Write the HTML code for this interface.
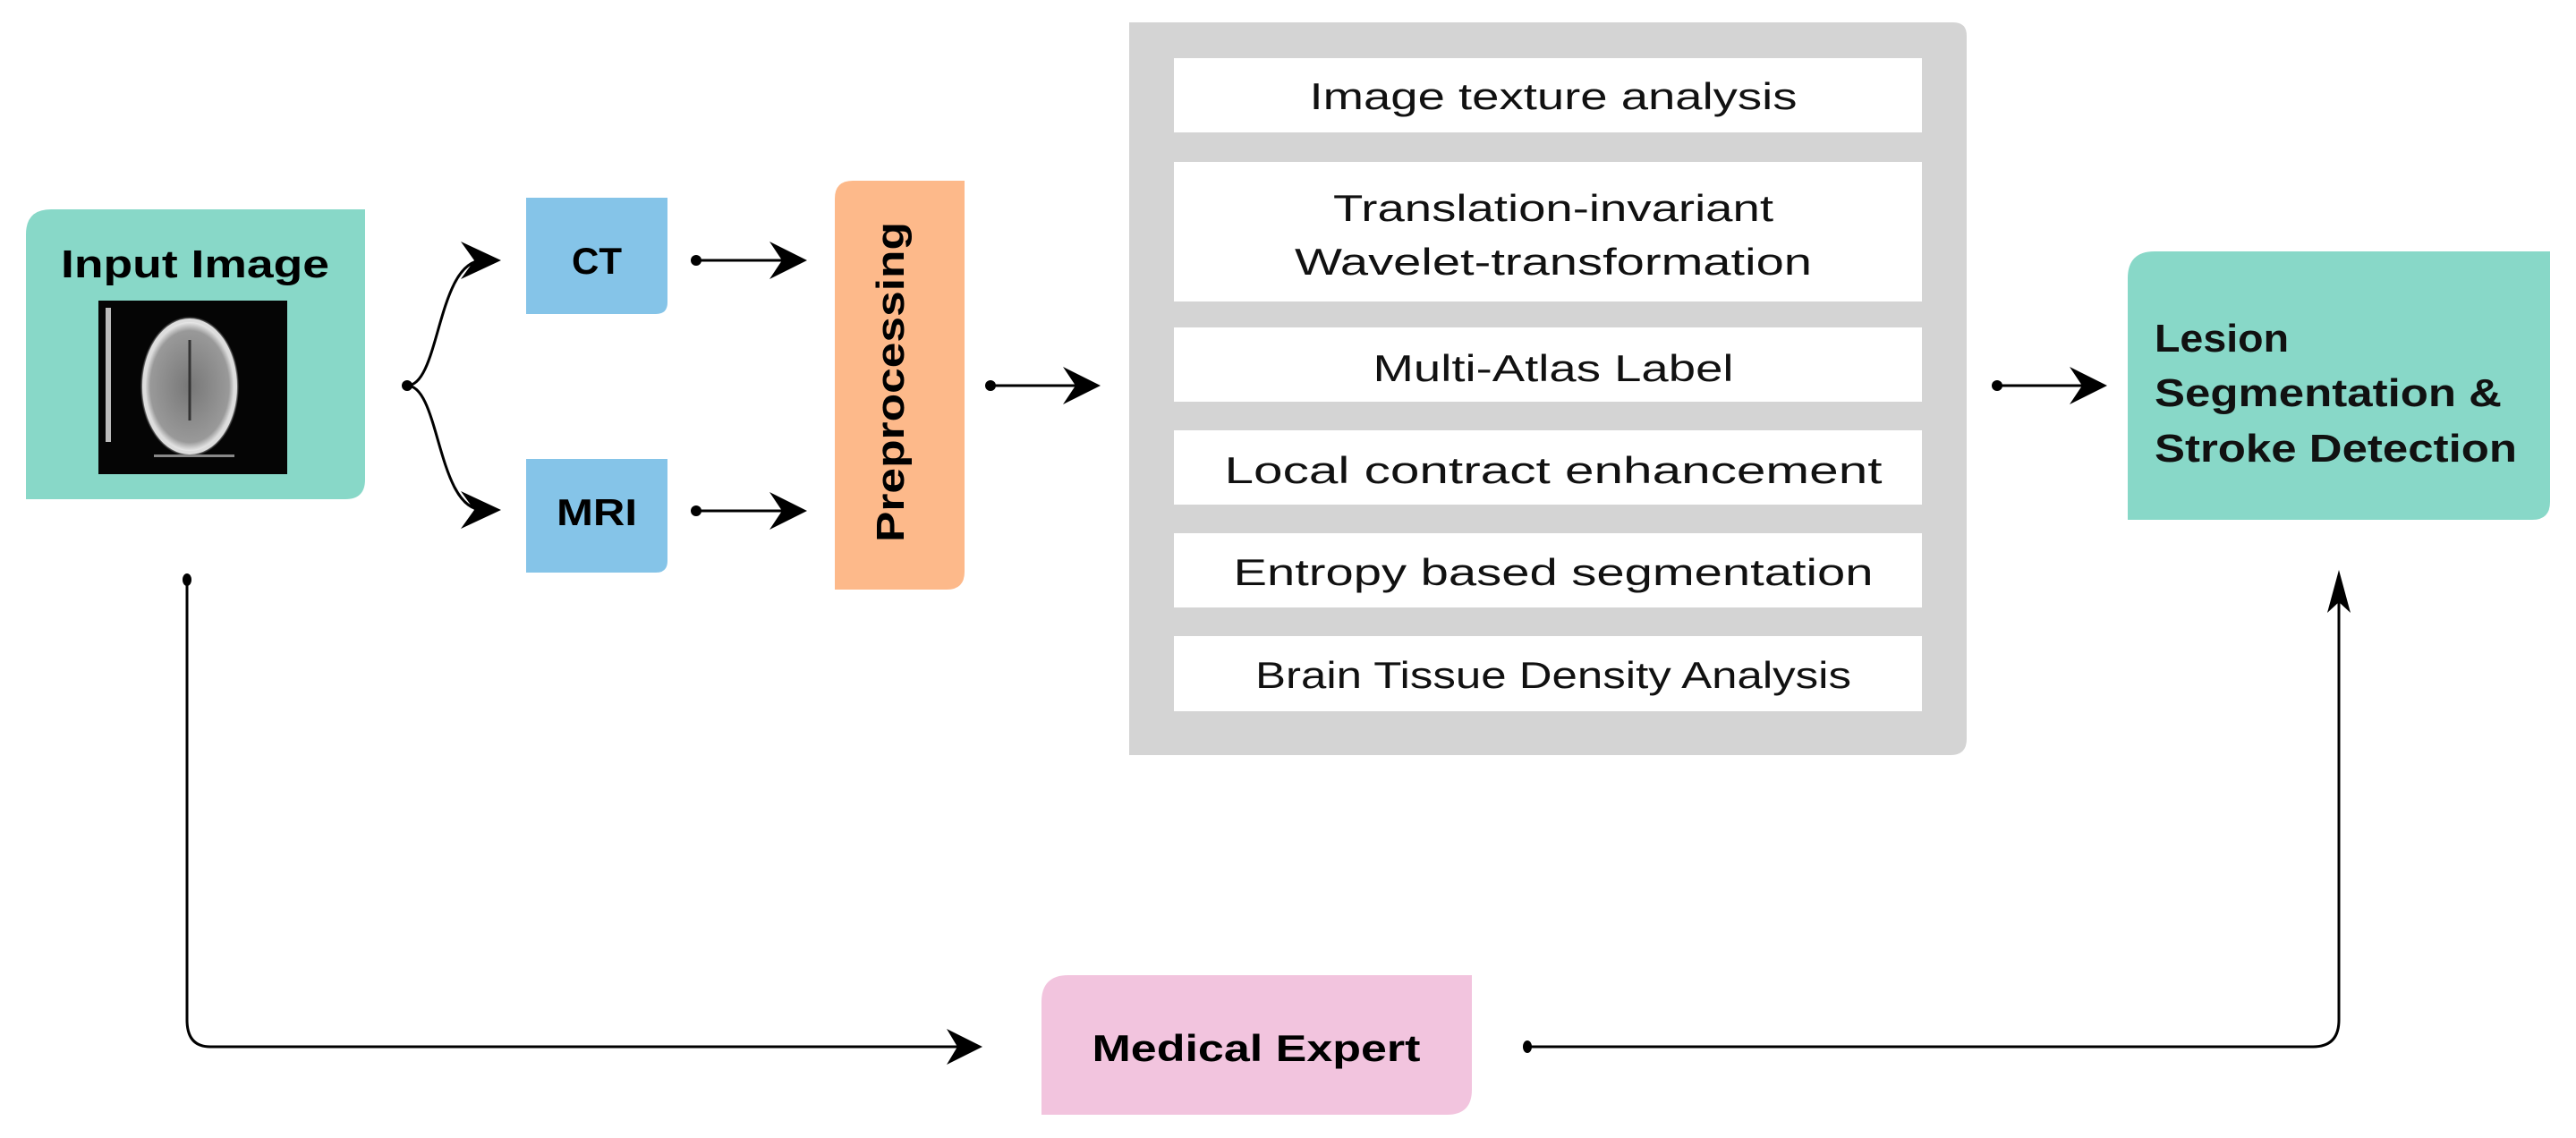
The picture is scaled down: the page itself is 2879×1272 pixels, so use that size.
<!DOCTYPE html>
<html><head><meta charset="utf-8"><style>
html,body{margin:0;padding:0;background:#fff;}
svg{display:block;}
text{font-family:"Liberation Sans",sans-serif;}
</style></head><body>
<svg width="2879" height="1272" viewBox="0 0 2879 1272" xmlns="http://www.w3.org/2000/svg">
<defs>
<radialGradient id="br" cx="50%" cy="50%" r="50%">
<stop offset="0" stop-color="#777"/><stop offset="0.8" stop-color="#999"/><stop offset="0.93" stop-color="#eee"/><stop offset="1" stop-color="#111"/>
</radialGradient>
<marker id="ah" markerWidth="10" markerHeight="10" refX="9" refY="5" orient="auto" markerUnits="userSpaceOnUse" viewBox="0 0 10 10"></marker>
</defs>

<!-- Input Image -->
<path d="M29,262 Q29,234 57,234 L408,234 L408,536 Q408,558 386,558 L29,558 Z" fill="#88d8c8"/>
<text x="218" y="310" font-size="44" font-weight="bold" text-anchor="middle" textLength="300" lengthAdjust="spacingAndGlyphs">Input Image</text>
<rect x="110" y="336" width="211" height="194" fill="#050505"/>
<rect x="118" y="344" width="6" height="150" fill="#bbb"/>
<ellipse cx="212" cy="432" rx="55" ry="78" fill="url(#br)"/>
<ellipse cx="212" cy="432" rx="51" ry="74" fill="none" stroke="#ddd" stroke-width="4"/>
<line x1="212" y1="380" x2="212" y2="470" stroke="#333" stroke-width="3"/>
<rect x="172" y="508" width="90" height="3" fill="#888"/>

<!-- CT / MRI -->
<path d="M588,221 L746,221 L746,338 Q746,351 733,351 L588,351 Z" fill="#85c4e8"/>
<text x="667" y="306" font-size="42" font-weight="bold" text-anchor="middle" textLength="56" lengthAdjust="spacingAndGlyphs">CT</text>
<path d="M588,513 L746,513 L746,627 Q746,640 733,640 L588,640 Z" fill="#85c4e8"/>
<text x="667" y="587" font-size="42" font-weight="bold" text-anchor="middle" textLength="90" lengthAdjust="spacingAndGlyphs">MRI</text>

<!-- Preprocessing -->
<path d="M953,202 L1078,202 L1078,639 Q1078,659 1058,659 L933,659 L933,222 Q933,202 953,202 Z" fill="#fdb98a"/>
<text transform="translate(1010,427) rotate(-90)" font-size="44" font-weight="bold" text-anchor="middle" textLength="358" lengthAdjust="spacingAndGlyphs">Preprocessing</text>

<!-- Gray panel -->
<path d="M1262,25 L2183,25 Q2198,25 2198,40 L2198,826 Q2198,844 2180,844 L1262,844 Z" fill="#d4d4d4"/>
<g fill="#fff">
<rect x="1312" y="65" width="836" height="83"/>
<rect x="1312" y="181" width="836" height="156"/>
<rect x="1312" y="366" width="836" height="83"/>
<rect x="1312" y="481" width="836" height="83"/>
<rect x="1312" y="596" width="836" height="83"/>
<rect x="1312" y="711" width="836" height="84"/>
</g>
<g font-size="42" text-anchor="middle" fill="#111">
<text x="1736" y="122" textLength="545" lengthAdjust="spacingAndGlyphs">Image texture analysis</text>
<text x="1736" y="247" textLength="492" lengthAdjust="spacingAndGlyphs">Translation-invariant</text>
<text x="1736" y="307" textLength="578" lengthAdjust="spacingAndGlyphs">Wavelet-transformation</text>
<text x="1736" y="426" textLength="403" lengthAdjust="spacingAndGlyphs">Multi-Atlas Label</text>
<text x="1736" y="540" textLength="735" lengthAdjust="spacingAndGlyphs">Local contract enhancement</text>
<text x="1736" y="654" textLength="715" lengthAdjust="spacingAndGlyphs">Entropy based segmentation</text>
<text x="1736" y="769" textLength="666" lengthAdjust="spacingAndGlyphs">Brain Tissue Density Analysis</text>
</g>

<!-- Lesion -->
<path d="M2408,281 L2850,281 L2850,561 Q2850,581 2830,581 L2378,581 L2378,311 Q2378,281 2408,281 Z" fill="#88d8c8"/>
<g font-size="44" font-weight="bold" fill="#111">
<text x="2408" y="393" textLength="150" lengthAdjust="spacingAndGlyphs">Lesion</text>
<text x="2408" y="454" textLength="388" lengthAdjust="spacingAndGlyphs">Segmentation &amp;</text>
<text x="2408" y="516" textLength="405" lengthAdjust="spacingAndGlyphs">Stroke Detection</text>
</g>

<!-- Medical Expert -->
<path d="M1194,1090 L1645,1090 L1645,1218 Q1645,1246 1617,1246 L1164,1246 L1164,1120 Q1164,1090 1194,1090 Z" fill="#f2c4de"/>
<text x="1404" y="1186" font-size="42" font-weight="bold" text-anchor="middle" textLength="367" lengthAdjust="spacingAndGlyphs">Medical Expert</text>

<!-- connectors -->
<g stroke="#000" stroke-width="3" fill="none">
<path d="M455,431 C492,431 488,291 540,291"/>
<path d="M455,431 C492,431 488,570 540,570"/>
<line x1="778" y1="291" x2="885" y2="291"/>
<line x1="778" y1="571" x2="885" y2="571"/>
<line x1="1107" y1="431" x2="1212" y2="431"/>
<line x1="2232" y1="431" x2="2340" y2="431"/>
<path d="M209,648 L209,1140 Q209,1170 235,1170 L1080,1170"/>
<path d="M1707,1170 L2585,1170 Q2614,1170 2614,1140 L2614,655"/>
</g>
<g fill="#000">
<circle cx="455" cy="431" r="6"/>
<circle cx="778" cy="291" r="6"/>
<circle cx="778" cy="571" r="6"/>
<circle cx="1107" cy="431" r="6"/>
<circle cx="2232" cy="431" r="6"/>
<ellipse cx="209" cy="648" rx="5" ry="7"/>
<ellipse cx="1707" cy="1170" rx="5" ry="7"/>
<!-- arrowheads: tip, back corners, notch -->
<path d="M560,291 L515,270 L530,291 L515,312 Z"/>
<path d="M560,570 L515,549 L530,570 L515,591 Z"/>
<path d="M902,291 L860,270 L874,291 L860,312 Z"/>
<path d="M902,571 L860,550 L874,571 L860,592 Z"/>
<path d="M1230,431 L1188,410 L1202,431 L1188,452 Z"/>
<path d="M2355,431 L2313,410 L2327,431 L2313,452 Z"/>
<path d="M1098,1170 L1058,1150 L1070,1170 L1058,1190 Z"/>
<path d="M2614,637 L2601,685 L2614,673 L2627,685 Z"/>
</g>
</svg>
</body></html>
